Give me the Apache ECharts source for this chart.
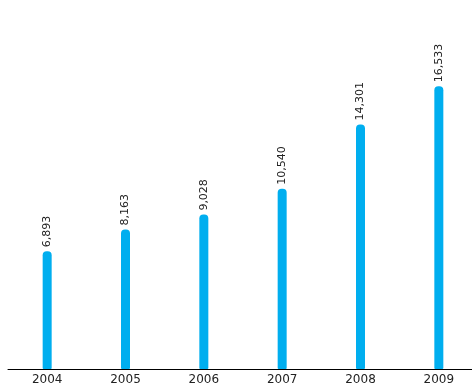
<!DOCTYPE html>
<html>
<head>
<meta charset="utf-8">
<script src="https://cdn.jsdelivr.net/npm/echarts@6/dist/echarts.min.js"></script>
<style>html,body{margin:0;padding:0;background:#fff}#c{width:472px;height:384px}</style>
</head>
<body>
<div id="c"></div>
<script>
var categories = ['2004','2005','2006','2007','2008','2009'];
var values = [6893, 8163, 9028, 10540, 14301, 16533];

var chart = echarts.init(document.getElementById('c'), null, {renderer:'canvas'});
chart.setOption({
  animation: false,
  grid: {left: 8, top: 27, right: -6, bottom: 15, containLabel: false, outerBoundsMode: 'none'},
  xAxis: {
    type: 'category',
    data: categories,
    axisLine: {lineStyle: {color: '#000', width: 1}},
    axisTick: {show: false},
    axisLabel: {color: '#222', fontSize: 12, fontFamily: 'DejaVu Sans', margin: 5}
  },
  yAxis: {
    type: 'value', min: 0, max: 20000, show: false,
    splitLine: {show: false}
  },
  series: [{
    type: 'bar',
    data: values,
    barWidth: 9,
    itemStyle: {color: '#00AEEF', borderRadius: [4,4,1,1]},
    label: {
      show: true, position: 'top', rotate: 90, align: 'left', verticalAlign: 'middle',
      distance: 4, color: '#222', fontSize: 11, fontFamily: 'DejaVu Sans',
      formatter: function(p){ return p.value.toLocaleString('en-US'); }
    }
  }]
});
</script>
</body>
</html>
